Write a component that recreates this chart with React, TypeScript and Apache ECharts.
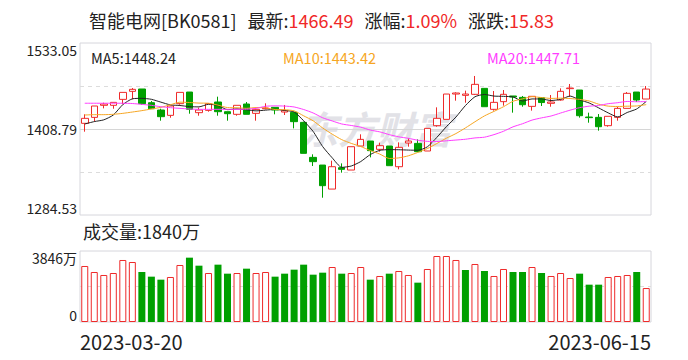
import React, { useEffect, useRef } from "react";
import * as echarts from "echarts";

// ---------- data ----------
const dates = [
  "2023-03-20","2023-03-21","2023-03-22","2023-03-23","2023-03-24","2023-03-27","2023-03-28","2023-03-29","2023-03-30","2023-03-31",
  "2023-04-03","2023-04-04","2023-04-06","2023-04-07","2023-04-10","2023-04-11","2023-04-12","2023-04-13","2023-04-14","2023-04-17",
  "2023-04-18","2023-04-19","2023-04-20","2023-04-21","2023-04-24","2023-04-25","2023-04-26","2023-04-27","2023-04-28","2023-05-04",
  "2023-05-05","2023-05-08","2023-05-09","2023-05-10","2023-05-11","2023-05-12","2023-05-15","2023-05-16","2023-05-17","2023-05-18",
  "2023-05-19","2023-05-22","2023-05-23","2023-05-24","2023-05-25","2023-05-26","2023-05-29","2023-05-30","2023-05-31","2023-06-01",
  "2023-06-02","2023-06-05","2023-06-06","2023-06-07","2023-06-08","2023-06-09","2023-06-12","2023-06-13","2023-06-14","2023-06-15",
];

// [open, close, low, high]
const candles: number[][] = [
  [1417.0, 1424.2, 1404.9, 1430.0],
  [1425.6, 1442.0, 1419.4, 1442.0],
  [1443.0, 1444.9, 1438.6, 1446.8],
  [1443.0, 1447.3, 1438.1, 1447.3],
  [1451.6, 1461.7, 1444.4, 1461.7],
  [1463.2, 1466.1, 1451.6, 1468.0],
  [1466.6, 1445.4, 1443.9, 1466.6],
  [1446.8, 1438.1, 1438.1, 1449.2],
  [1436.2, 1426.6, 1420.8, 1438.1],
  [1428.5, 1442.0, 1425.1, 1442.0],
  [1445.4, 1461.7, 1443.9, 1461.7],
  [1462.2, 1437.2, 1430.9, 1462.2],
  [1432.4, 1436.2, 1428.0, 1439.6],
  [1435.7, 1445.4, 1433.8, 1445.9],
  [1447.8, 1433.8, 1428.0, 1455.5],
  [1433.8, 1430.9, 1420.8, 1433.8],
  [1430.0, 1443.0, 1428.0, 1443.0],
  [1444.9, 1430.0, 1430.0, 1447.8],
  [1431.4, 1437.2, 1420.8, 1438.5],
  [1438.1, 1439.1, 1437.2, 1445.9],
  [1440.1, 1436.2, 1430.0, 1440.1],
  [1433.3, 1435.3, 1429.0, 1443.5],
  [1432.9, 1419.4, 1409.7, 1432.9],
  [1418.4, 1373.6, 1373.6, 1419.4],
  [1367.8, 1361.6, 1355.3, 1372.2],
  [1356.7, 1326.9, 1309.5, 1356.7],
  [1322.0, 1354.3, 1322.0, 1363.0],
  [1352.9, 1350.5, 1345.7, 1359.1],
  [1349.5, 1383.2, 1349.5, 1383.2],
  [1384.2, 1393.8, 1384.2, 1401.1],
  [1391.4, 1377.5, 1367.8, 1391.4],
  [1379.4, 1384.7, 1376.0, 1389.0],
  [1384.2, 1355.8, 1355.8, 1384.2],
  [1354.3, 1382.3, 1350.5, 1389.5],
  [1388.5, 1391.4, 1383.2, 1395.3],
  [1388.0, 1376.0, 1376.0, 1393.8],
  [1377.0, 1409.7, 1377.0, 1409.7],
  [1413.6, 1424.2, 1412.1, 1440.1],
  [1422.7, 1459.3, 1422.7, 1459.3],
  [1459.3, 1460.8, 1449.7, 1461.8],
  [1457.4, 1459.3, 1446.8, 1464.2],
  [1458.9, 1473.3, 1457.9, 1485.4],
  [1467.5, 1441.0, 1441.0, 1467.5],
  [1437.2, 1447.3, 1435.3, 1463.7],
  [1448.3, 1458.9, 1442.5, 1465.1],
  [1456.5, 1455.0, 1432.4, 1456.5],
  [1454.5, 1443.9, 1441.0, 1456.5],
  [1441.5, 1456.0, 1435.3, 1456.0],
  [1454.0, 1447.0, 1442.0, 1454.0],
  [1445.9, 1447.8, 1441.0, 1457.9],
  [1450.7, 1463.2, 1449.7, 1467.5],
  [1467.1, 1468.0, 1455.5, 1473.8],
  [1465.1, 1428.0, 1425.2, 1465.1],
  [1426.1, 1425.2, 1417.9, 1432.4],
  [1425.6, 1412.1, 1406.4, 1430.4],
  [1413.6, 1427.1, 1412.1, 1427.1],
  [1425.6, 1438.6, 1420.8, 1441.0],
  [1438.6, 1460.3, 1438.6, 1462.2],
  [1462.2, 1450.66, 1447.8, 1462.2],
  [1452.1, 1466.49, 1452.1, 1470.9],
];

// volume, 万
const volumes = [
  3034, 2708, 2546, 2654, 3359, 3250, 2708, 2456, 2293, 2438,
  3088, 3485, 3051, 2654, 3106, 2618, 2654, 2889, 2654, 2708,
  2456, 2618, 2835, 3106, 2564, 2672, 2979, 2618, 2654, 2979,
  2293, 2492, 2618, 2763, 2546, 2131, 2871, 3575, 3575, 3359,
  2817, 3142, 2763, 2492, 2871, 2708, 2708, 2979, 2654, 2492,
  2654, 2383, 2618, 2022, 2022, 2438, 2492, 2546, 2708, 1840,
];

// moving-average values before enough in-window closes exist
const ma5Head = [1416.0, 1419.5, 1422.0, 1429.0];
const ma10Head = [1429.0, 1429.5, 1429.5, 1430.0, 1431.4, 1433.3, 1435.3, 1437.7, 1440.1];
const ma20Head = [
  1446.0, 1446.0, 1446.0, 1446.0, 1446.0, 1445.6, 1444.4, 1443.0, 1441.0, 1439.6,
  1438.6, 1437.7, 1437.2, 1437.2, 1437.2, 1437.2, 1437.2, 1437.4, 1438.6,
];

const priceTicks = ["1284.53", "1408.79", "1533.05"];
const priceMin = 1284.53;
const priceMax = 1533.05;
const volTicks = ["0", "", "3846万"];
const volMax = 3846;

const titleName = "智能电网[BK0581]";
const titleItems = [
  { k: "最新:", v: "1466.49" },
  { k: "涨幅:", v: "1.09%" },
  { k: "涨跌:", v: "15.83" },
];
const maLegend = [
  { name: "MA5", value: "1448.24" },
  { name: "MA10", value: "1443.42" },
  { name: "MA20", value: "1447.71" },
];
const volLabel = "成交量:1840万";

// ---------- styles ----------
const RED = "#ee2a2a";
const GREEN = "#00a000";
const MA_COLORS = ["#222222", "#f6a623", "#ff3cff"];
const FONT = "'Noto Sans CJK SC', 'Noto Sans', sans-serif";
const T = "rgba(0,0,0,0)";

function calcMA(n: number, head: number[]) {
  const closes = candles.map((c) => c[1]);
  return closes.map((_, i) => {
    if (i < n - 1) return head[i];
    let s = 0;
    for (let j = i - n + 1; j <= i; j++) s += closes[j];
    return +(s / n).toFixed(2);
  });
}

export default function App() {
  const ref = useRef<HTMLDivElement>(null);
  useEffect(() => {
    if (!ref.current) return;
    const chart = echarts.init(ref.current, undefined, { renderer: "svg" });
    const ma5 = calcMA(5, ma5Head);
    const ma10 = calcMA(10, ma10Head);
    const ma20 = calcMA(20, ma20Head);

    const volData = volumes.map((v, i) => {
      const up = i === 0 ? true : candles[i][1] >= candles[i - 1][1];
      return {
        value: v,
        itemStyle: up
          ? { color: "#ffffff", borderColor: RED, borderWidth: 1 }
          : { color: GREEN, borderColor: GREEN, borderWidth: 0 },
      };
    });

    let titleRich = "{k|" + titleName + "}";
    titleItems.forEach((it) => {
      titleRich += "{g| }{k|" + it.k + "}{v|" + it.v + "}";
    });

    const legendX = [91, 283, 487];

    chart.setOption({
      animation: false,
      backgroundColor: "#ffffff",
      textStyle: { fontFamily: FONT },
      grid: [
        { left: 80, top: 43, width: 571, height: 172, show: true, borderColor: "#d6d6dc", borderWidth: 1, outerBoundsMode: "none", containLabel: false },
        { left: 80, top: 251, width: 571, height: 71, show: true, borderColor: "#d6d6dc", borderWidth: 1, outerBoundsMode: "none", containLabel: false },
      ],
      xAxis: [
        {
          type: "category", gridIndex: 0, data: dates, boundaryGap: true,
          axisLine: { show: false }, axisTick: { show: false }, axisLabel: { show: false }, splitLine: { show: false },
        },
        {
          type: "category", gridIndex: 1, data: dates, boundaryGap: true,
          axisLine: { show: false }, axisTick: { show: false }, axisLabel: { show: false }, splitLine: { show: false },
        },
      ],
      yAxis: [
        { type: "value", gridIndex: 0, position: "left", min: priceMin, max: priceMax, show: false, splitLine: { show: false } },
        {
          type: "value", gridIndex: 0, position: "left", offset: 0, min: 0, max: 4, interval: 1,
          axisLine: { show: false }, axisTick: { show: false },
          axisLabel: {
            margin: 3, fontSize: 14, color: "#222", fontFamily: FONT,
            formatter: (v: number) => (v % 2 === 0 ? priceTicks[v / 2] : ""),
            verticalAlignMinLabel: "bottom", verticalAlignMaxLabel: "top",
          },
          splitLine: { show: true, lineStyle: { type: [4, 4], color: [T, "#dcdcdc", T, "#dcdcdc", T], width: 1 } },
        },
        {
          type: "value", gridIndex: 0, position: "left", offset: 0, min: 0, max: 2, interval: 1,
          axisLine: { show: false }, axisTick: { show: false }, axisLabel: { show: false },
          splitLine: { show: true, lineStyle: { type: "solid", color: [T, "#d6d6d6", T], width: 1 } },
        },
        { type: "value", gridIndex: 1, position: "left", min: 0, max: volMax, show: false, splitLine: { show: false } },
        {
          type: "value", gridIndex: 1, position: "left", offset: 0, min: 0, max: 2, interval: 1,
          axisLine: { show: false }, axisTick: { show: false },
          axisLabel: {
            margin: 3, fontSize: 14, color: "#222", fontFamily: FONT,
            formatter: (v: number) => volTicks[v],
            verticalAlignMinLabel: "bottom", verticalAlignMaxLabel: "top",
          },
          splitLine: { show: true, lineStyle: { type: [4, 4], color: [T, "#dcdcdc", T], width: 1 } },
        },
      ],
      series: [
        {
          type: "candlestick", xAxisIndex: 0, yAxisIndex: 0, barWidth: 7, z: 3,
          data: candles.map((c) => [c[0], c[1], c[2], c[3]]),
          itemStyle: { color: "#ffffff", color0: GREEN, borderColor: RED, borderColor0: GREEN, borderWidth: 1 },
        },
        {
          type: "line", xAxisIndex: 0, yAxisIndex: 0, data: ma5, showSymbol: false, smooth: 0.2, z: 4,
          lineStyle: { color: MA_COLORS[0], width: 1 },
        },
        {
          type: "line", xAxisIndex: 0, yAxisIndex: 0, data: ma10, showSymbol: false, smooth: 0.2, z: 4,
          lineStyle: { color: MA_COLORS[1], width: 1 },
        },
        {
          type: "line", xAxisIndex: 0, yAxisIndex: 0, data: ma20, showSymbol: false, smooth: 0.2, z: 4,
          lineStyle: { color: MA_COLORS[2], width: 1 },
        },
        {
          type: "bar", xAxisIndex: 1, yAxisIndex: 3, data: volData, barWidth: 7, z: 3,
        },
      ],
      graphic: [
        {
          type: "text", left: 89, top: 11, z: 10,
          style: {
            text: titleRich,
            font: "18px " + FONT,
            rich: {
              k: { fontSize: 18, fill: "#222", fontFamily: FONT },
              v: { fontSize: 18, fill: "#f02828", fontFamily: FONT },
              g: { width: 11, fontSize: 18 },
            },
          },
        },
        ...maLegend.map((m, i) => ({
          type: "text", x: legendX[i], y: 57, z: 10,
          style: {
            text: m.name + ":" + m.value, fill: MA_COLORS[i], fontSize: 14.5, fontFamily: FONT, verticalAlign: "middle",
          },
        })),
        {
          type: "text", x: 300, y: 127, z: 0,
          style: {
            text: "东方财富", fill: "#e2e2e7", fontSize: 38, fontWeight: "bold", fontStyle: "italic",
            fontFamily: FONT, verticalAlign: "middle",
          },
        },
        {
          type: "text", x: 83, y: 231, z: 10,
          style: { text: volLabel, fill: "#222", fontSize: 18, fontFamily: FONT, verticalAlign: "middle" },
        },
        {
          type: "text", x: 80, y: 341, z: 10,
          style: { text: dates[0], fill: "#222", fontSize: 20, fontFamily: FONT, verticalAlign: "middle", align: "left" },
        },
        {
          type: "text", x: 651, y: 341, z: 10,
          style: { text: dates[dates.length - 1], fill: "#222", fontSize: 20, fontFamily: FONT, verticalAlign: "middle", align: "right" },
        },
      ],
    });
    return () => chart.dispose();
  }, []);
  return (
    <div
      ref={ref}
      style={{ position: "fixed", left: 0, top: 0, width: 688, height: 360, background: "#fff" }}
    />
  );
}
